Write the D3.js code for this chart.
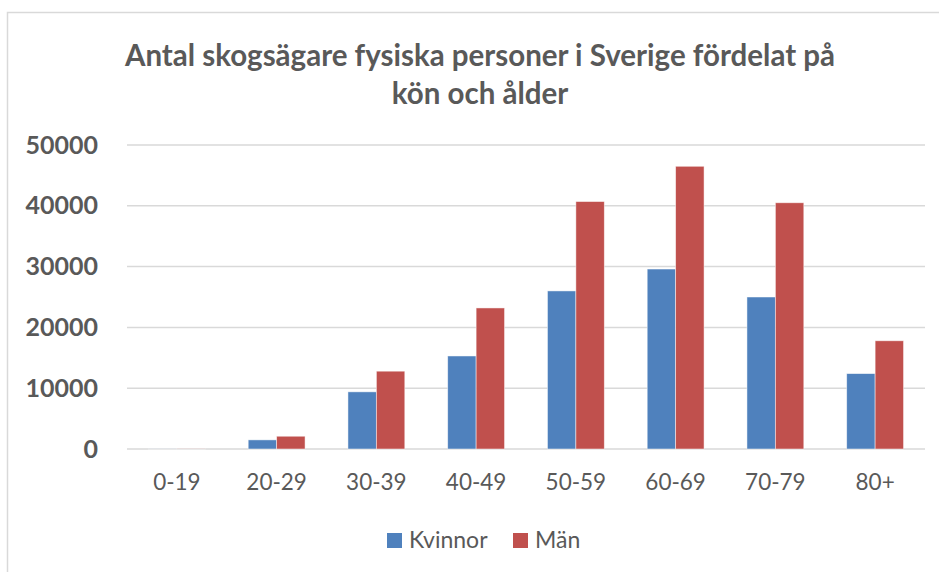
<!DOCTYPE html>
<html>
<head>
<meta charset="utf-8">
<script src="https://cdn.jsdelivr.net/npm/d3@7"></script>
<style>
  body { margin: 0; background: #fff; }
  svg { display: block; font-family: Lato, "Open Sans", sans-serif; }
</style>
</head>
<body>
<svg width="939" height="572"></svg>
<script>
// data
const ageGroups = ["0-19", "20-29", "30-39", "40-49", "50-59", "60-69", "70-79", "80+"];
const seriesNames = ["Kvinnor", "Män"];
const kvinnor = [10, 1500, 9400, 15300, 26000, 29600, 25000, 12400];
const man = [20, 2100, 12800, 23200, 40700, 46500, 40500, 17800];
const yTicks = [0, 10000, 20000, 30000, 40000, 50000];
const colors = ["#4F81BD", "#C0504D"];
const titleLines = ["Antal skogsägare fysiska personer i Sverige fördelat på", "kön och ålder"];

const svg = d3.select("svg");
const margin = { top: 145, right: 14, bottom: 123, left: 127 };
const width = 939 - margin.left - margin.right;
const height = 572 - margin.top - margin.bottom;

// ram runt diagrammet
svg.append("rect")
  .attr("x", 7.5).attr("y", 12.5)
  .attr("width", 960).attr("height", 600)
  .attr("fill", "none").attr("stroke", "#D9D9D9").attr("stroke-width", 1.5);

// rubrik
svg.append("g").selectAll("text")
  .data(titleLines)
  .enter().append("text")
  .attr("x", 480)
  .attr("y", (d, i) => 66 + i * 38)
  .attr("text-anchor", "middle")
  .attr("font-size", 29.5)
  .attr("font-weight", "bold")
  .attr("fill", "#595959")
  .text(d => d);

const g = svg.append("g").attr("transform", `translate(${margin.left},${margin.top})`);

const x0 = d3.scaleBand().domain(ageGroups).range([0, width]).paddingInner(0.43).paddingOuter(0.215);
const x1 = d3.scaleBand().domain(seriesNames).range([0, x0.bandwidth()]);
const y = d3.scaleLinear().domain([0, 50000]).range([height, 0]);

// stödlinjer
g.append("g").selectAll("line")
  .data(yTicks)
  .enter().append("line")
  .attr("x1", 0).attr("x2", width)
  .attr("y1", d => y(d)).attr("y2", d => y(d))
  .attr("stroke", "#D9D9D9").attr("stroke-width", 1.5);

// y-axel
const yAxis = g.append("g")
  .call(d3.axisLeft(y).tickValues(yTicks).tickSize(0).tickPadding(29).tickFormat(d3.format("d")));
yAxis.select(".domain").remove();
yAxis.selectAll("text")
  .attr("font-size", 25).attr("font-weight", "bold").attr("fill", "#595959")
  .attr("font-family", "Lato, sans-serif");

// x-axel
const xAxis = g.append("g")
  .attr("transform", `translate(0,${height})`)
  .call(d3.axisBottom(x0).tickSize(0).tickPadding(25));
xAxis.select(".domain").remove();
xAxis.selectAll("text")
  .attr("font-size", 22.5).attr("fill", "#595959")
  .attr("font-family", "Lato, sans-serif");

// staplar
const rows = ageGroups.map((a, i) => ({ age: a, values: [kvinnor[i], man[i]] }));
g.append("g").selectAll("g")
  .data(rows)
  .enter().append("g")
  .attr("transform", d => `translate(${x0(d.age)},0)`)
  .selectAll("rect")
  .data(d => d.values.map((v, k) => ({ key: seriesNames[k], value: v, k })))
  .enter().append("rect")
  .attr("x", d => x1(d.key))
  .attr("y", d => y(d.value))
  .attr("width", x1.bandwidth())
  .attr("height", d => height - y(d.value))
  .attr("fill", d => colors[d.k])
  .attr("stroke", "#fff").attr("stroke-width", 0.8).attr("stroke-opacity", 0.6);

// förklaring
const legend = svg.append("g").attr("transform", "translate(387,540)");
const legendX = [0, 126];
seriesNames.forEach((name, i) => {
  const lg = legend.append("g").attr("transform", `translate(${legendX[i]},0)`);
  lg.append("rect").attr("x", 0).attr("y", -7).attr("width", 15).attr("height", 15).attr("fill", colors[i]);
  lg.append("text").attr("x", 22).attr("y", 0).attr("dy", "0.35em")
    .attr("font-size", 23).attr("fill", "#595959").text(name);
});
</script>
</body>
</html>
